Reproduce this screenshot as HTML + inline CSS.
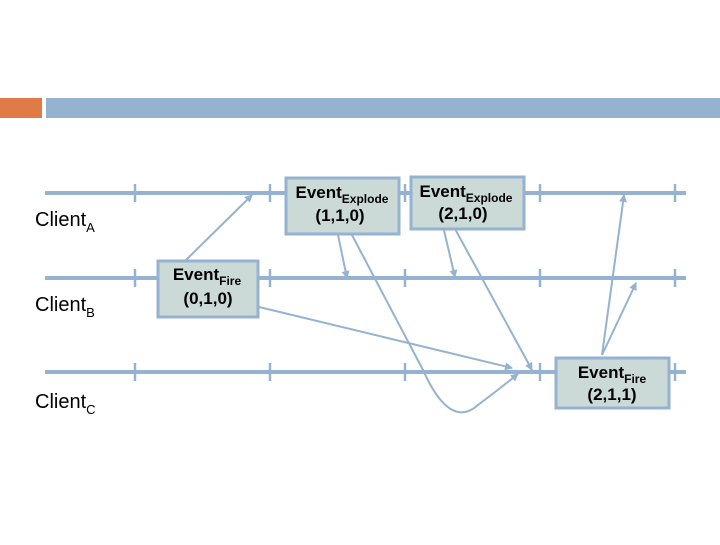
<!DOCTYPE html>
<html><head><style>
body{margin:0;width:720px;height:540px;background:#fff;overflow:hidden;font-family:"Liberation Sans",sans-serif}
</style></head><body>
<svg width="720" height="540" viewBox="0 0 720 540" xmlns="http://www.w3.org/2000/svg">
<defs><marker id="a" markerWidth="8" markerHeight="8" refX="7" refY="4" orient="auto" markerUnits="userSpaceOnUse"><path d="M0,0 L8,4 L0,8 Z" fill="#95b3d0"/></marker></defs>
<rect x="0" y="98" width="42" height="20" fill="#e07b47"/>
<rect x="46" y="98" width="674" height="20" fill="#95b3d0"/>
<g stroke="#95b3d0" stroke-width="4">
<line x1="45" y1="193" x2="686" y2="193"/>
<line x1="45" y1="278" x2="686" y2="278"/>
<line x1="45" y1="372" x2="686" y2="372"/>
</g>
<g stroke="#95b3d0" stroke-width="2.5">
<line x1="135" y1="184" x2="135" y2="202"/><line x1="270" y1="184" x2="270" y2="202"/><line x1="405" y1="184" x2="405" y2="202"/><line x1="540" y1="184" x2="540" y2="202"/><line x1="675" y1="184" x2="675" y2="202"/>
<line x1="135" y1="269" x2="135" y2="287"/><line x1="270" y1="269" x2="270" y2="287"/><line x1="405" y1="269" x2="405" y2="287"/><line x1="540" y1="269" x2="540" y2="287"/><line x1="675" y1="269" x2="675" y2="287"/>
<line x1="135" y1="363" x2="135" y2="381"/><line x1="270" y1="363" x2="270" y2="381"/><line x1="405" y1="363" x2="405" y2="381"/><line x1="540" y1="363" x2="540" y2="381"/><line x1="675" y1="363" x2="675" y2="381"/>
</g>
<g stroke="#95b3d0" stroke-width="2" fill="none" marker-end="url(#a)">
<line x1="186" y1="260" x2="252" y2="195"/>
<line x1="338" y1="235" x2="347" y2="278"/>
<path d="M352,235 L423,370 Q450,430 478,405 Q498,390 518,374"/>
<line x1="259" y1="307" x2="512" y2="368"/>
<line x1="438" y1="205" x2="455" y2="277"/>
<line x1="442" y1="205" x2="532" y2="370"/>
<line x1="602" y1="355" x2="624" y2="195"/>
<line x1="602" y1="355" x2="636" y2="283"/>
</g>
<g fill="#ccdad7" stroke="#95b3d0" stroke-width="3">
<rect x="286" y="178" width="113" height="56"/>
<rect x="411" y="177" width="113" height="52"/>
<rect x="158" y="261" width="100" height="56"/>
<rect x="556" y="358" width="113" height="50"/>
</g>
<g font-weight="bold" font-size="17" text-anchor="middle" fill="#000">
<text x="342" y="198">Event<tspan font-size="12" dy="5">Explode</tspan></text>
<text x="340" y="221">(1,1,0)</text>
<text x="466" y="197">Event<tspan font-size="12" dy="5">Explode</tspan></text>
<text x="463" y="219">(2,1,0)</text>
<text x="207" y="280">Event<tspan font-size="12" dy="5">Fire</tspan></text>
<text x="208" y="304">(0,1,0)</text>
<text x="612" y="378">Event<tspan font-size="12" dy="5">Fire</tspan></text>
<text x="612" y="400">(2,1,1)</text>
</g>
<g font-size="20" fill="#000">
<text x="35" y="226">Client<tspan font-size="13" dy="6">A</tspan></text>
<text x="35" y="311">Client<tspan font-size="13" dy="6">B</tspan></text>
<text x="35" y="408">Client<tspan font-size="13" dy="6">C</tspan></text>
</g>
</svg>
</body></html>
